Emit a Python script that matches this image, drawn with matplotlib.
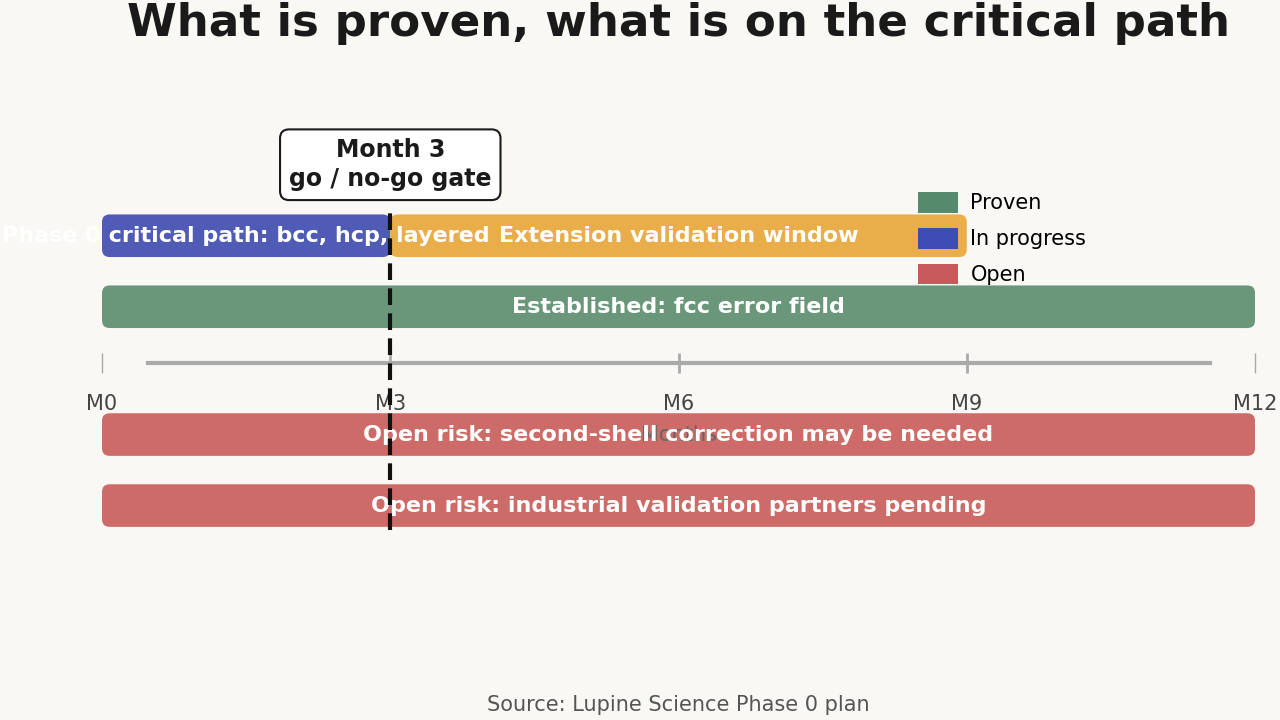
import numpy as np
import matplotlib
matplotlib.use("Agg")
import matplotlib.pyplot as plt
from matplotlib.patches import FancyBboxPatch, Patch

# data
labels = ["Phase 0 critical path: bcc, hcp, layered",
          "Extension validation window",
          "Established: fcc error field",
          "Open risk: second-shell correction may be needed",
          "Open risk: industrial validation partners pending"]
starts = [0, 3, 0, 0, 0]
ends = [3, 9, 12, 12, 12]
rows = [2, 2, 1, -0.8, -1.8]
colors = ["#4f5bb5", "#e9ae4a", "#6a967a", "#cc6b68", "#cc6b68"]
tick_months = [0, 3, 6, 9, 12]
tick_labels = ["M0", "M3", "M6", "M9", "M12"]
gate_month = 3
legend_names = ["Proven", "In progress", "Open"]
legend_colors = ["#568a6c", "#3f4cb5", "#c85a5b"]

bg = "#f9f8f4"
fig = plt.figure(figsize=(12.8, 7.2), dpi=100, facecolor=bg)
ax = fig.add_axes([0.0797, 0.0, 0.9008, 1.0])
ax.set_facecolor(bg)
ax.set_xlim(0, 12)
ax.set_ylim(-4.82, 5.32)

bar_h = 0.6
for s, e, r, c, lab in zip(starts, ends, rows, colors, labels):
    p = FancyBboxPatch((s, r - bar_h / 2), e - s, bar_h,
                       boxstyle="round,pad=0,rounding_size=0.08",
                       mutation_aspect=0.6 / 0.45,
                       facecolor=c, edgecolor="none", zorder=2)
    ax.add_patch(p)
    ax.text((s + e) / 2, r, lab, ha="center", va="center", color="white",
            fontsize=16, fontweight="bold", zorder=4)

# gate line and label
ax.plot([gate_month, gate_month], [-2.14, 2.39], color="#111111", lw=3,
        ls=(0, (4, 2)), zorder=5)
ax.text(gate_month, 3.0, "Month 3\ngo / no-go gate", ha="center", va="center",
        fontsize=17, fontweight="bold", color="#1a1a1a", linespacing=1.25,
        bbox=dict(boxstyle="round,pad=0.38", facecolor="white",
                  edgecolor="#1a1a1a", lw=1.5), zorder=6)

# axis in the middle
for side in ["left", "right", "top"]:
    ax.spines[side].set_visible(False)
ax.spines["bottom"].set_position(("data", 0.21))
ax.spines["bottom"].set_bounds(0.48, 11.53)
ax.spines["bottom"].set_color("#aaaaaa")
ax.spines["bottom"].set_linewidth(3)
ax.set_axisbelow(False)
ax.set_yticks([])
ax.set_xticks(tick_months)
ax.set_xticklabels(tick_labels, fontsize=15, color="#444444")
ax.tick_params(axis="x", direction="inout", length=15, width=2,
               color="#aaaaaa", pad=15)
for t in (ax.xaxis.get_major_ticks()[0], ax.xaxis.get_major_ticks()[-1]):
    t.tick1line.set_markeredgewidth(1)
ax.set_xlabel("Months", fontsize=15, color="#666666", labelpad=8)
ax.xaxis.label.set_zorder(2.5)

handles = [Patch(facecolor=c, edgecolor="none") for c in legend_colors]
ax.legend(handles, legend_names, loc="upper left",
          bbox_to_anchor=(0.709, 0.748), bbox_transform=fig.transFigure,
          frameon=False, fontsize=15, handlelength=1.92, handleheight=1.15,
          labelspacing=0.7, handletextpad=0.6, borderpad=0.0)

fig.text(0.53, 0.968, "What is proven, what is on the critical path",
         ha="center", va="center", fontsize=32.5, fontweight="bold",
         color="#1a1a1a")
fig.text(0.53, 0.021, "Source: Lupine Science Phase 0 plan", ha="center",
         va="center", fontsize=15, color="#555555")

fig.savefig("out.png", dpi=100, facecolor=bg)
